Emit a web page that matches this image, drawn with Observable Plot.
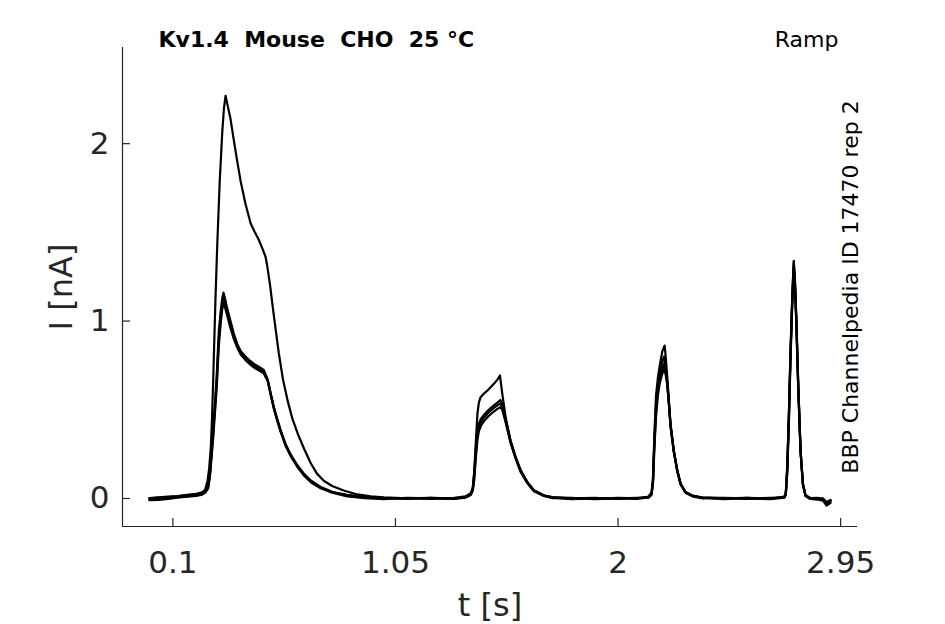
<!DOCTYPE html>
<html><head><meta charset="utf-8">
<script src="https://cdn.jsdelivr.net/npm/d3@7"></script>
<script src="https://cdn.jsdelivr.net/npm/@observablehq/plot@0.6"></script>
<style>
body{margin:0;background:#fff}
svg text{white-space:pre}
</style>
</head><body><div id="chart"></div>
<script>
// ---- data ----
const tA = [0,0.04,0.08,0.12,0.16,0.20,0.225,0.238,0.248,0.255,0.262,0.267,0.272,0.277,0.282,0.290,0.300,0.311,0.318,0.325,0.333,0.346,0.36,0.376,0.389,0.41,0.432,0.45,0.466,0.482,0.496,0.504,0.515,0.530,0.552,0.570,0.590,0.61,0.633,0.66,0.688,0.715,0.744,0.78,0.829,0.88,0.944,1.0,1.1,1.2,1.3,1.35,1.372,
  1.38,1.386,1.393,1.400,1.406,1.413,1.427,1.448,1.47,1.485,1.496,1.506,1.52,1.541,1.563,1.584,1.613,1.641,1.683,1.72,1.8,1.9,2.0,2.08,2.13,2.143,
  2.149,2.155,2.162,2.170,2.178,2.189,2.199,2.204,2.210,2.217,2.224,2.238,2.253,2.267,2.288,2.317,2.36,2.45,2.55,2.65,2.71,
  2.716,2.722,2.729,2.736,2.744,2.750,2.755,2.761,2.769,2.779,2.789,2.80,2.82,2.85,2.875,2.89,2.907];
const iA = [0.002,0.006,0.010,0.014,0.020,0.026,0.034,0.05,0.10,0.17,0.29,0.45,0.665,0.90,1.135,1.45,1.79,2.07,2.20,2.27,2.22,2.14,2.02,1.89,1.79,1.66,1.55,1.50,1.46,1.41,1.36,1.30,1.20,1.04,0.82,0.67,0.55,0.45,0.365,0.28,0.20,0.14,0.10,0.07,0.045,0.025,0.012,0.006,0.000,0.004,-0.002,0.010,0.03,
  0.06,0.15,0.32,0.48,0.54,0.57,0.59,0.615,0.646,0.67,0.693,0.59,0.46,0.327,0.233,0.158,0.092,0.045,0.017,0.006,0.002,-0.002,0.004,0.000,0.010,0.035,
  0.11,0.36,0.58,0.68,0.75,0.83,0.862,0.79,0.684,0.55,0.42,0.27,0.158,0.083,0.036,0.017,0.005,0.000,0.004,-0.002,0.010,
  0.035,0.18,0.47,0.83,1.16,1.34,1.23,1.02,0.65,0.27,0.083,0.017,0.002,0.004,-0.004,-0.03,-0.012];

const tLow = [0,0.04,0.08,0.12,0.16,0.20,0.225,0.24,0.25,0.258,0.265,0.272,0.280,0.287,0.296,0.305,0.311,0.316,0.322,0.332,0.346,0.36,0.375,0.39,0.41,0.43,0.45,0.47,0.488,0.505,0.518,0.531,0.545,0.56,0.58,0.602,0.63,0.659,0.69,0.731,0.78,0.844,0.92,1.0,1.1,1.2,1.3,1.35,1.372,
  1.38,1.386,1.393,1.400,1.406,1.415,1.427,1.448,1.47,1.485,1.498,1.506,1.52,1.541,1.563,1.584,1.613,1.641,1.683,1.72,1.8,1.9,2.0,2.08,2.13,2.143,
  2.149,2.155,2.162,2.170,2.178,2.188,2.196,2.203,2.210,2.217,2.224,2.238,2.253,2.267,2.288,2.317,2.36,2.45,2.55,2.65,2.71,
  2.716,2.722,2.729,2.736,2.744,2.750,2.755,2.761,2.769,2.779,2.789,2.80,2.82,2.85,2.875,2.89,2.907];
const iB = [-0.005,0.000,0.002,0.008,0.012,0.018,0.026,0.040,0.065,0.14,0.27,0.40,0.55,0.69,0.94,1.07,1.13,1.16,1.13,1.07,1.00,0.93,0.87,0.83,0.80,0.775,0.755,0.74,0.725,0.67,0.59,0.515,0.45,0.385,0.31,0.25,0.19,0.14,0.10,0.065,0.038,0.018,0.010,0.004,0.002,-0.002,0.004,0.012,0.03,
  0.06,0.14,0.28,0.38,0.42,0.45,0.47,0.50,0.525,0.54,0.555,0.53,0.45,0.325,0.232,0.16,0.092,0.046,0.018,0.008,0.000,0.003,-0.003,0.002,0.008,0.03,
  0.10,0.33,0.52,0.64,0.71,0.77,0.80,0.74,0.66,0.54,0.415,0.27,0.158,0.083,0.036,0.016,0.004,-0.004,0.003,0.000,0.008,
  0.03,0.17,0.46,0.82,1.15,1.33,1.22,1.00,0.64,0.27,0.083,0.018,0.004,-0.003,0.000,-0.02,-0.008];
const iC = [0.000,0.005,0.008,0.012,0.018,0.024,0.032,0.045,0.060,0.13,0.25,0.37,0.52,0.66,0.90,1.04,1.10,1.13,1.11,1.05,0.98,0.91,0.86,0.82,0.79,0.765,0.745,0.73,0.715,0.665,0.585,0.51,0.445,0.38,0.305,0.245,0.185,0.135,0.095,0.06,0.035,0.02,0.006,0.000,-0.003,0.003,0.000,0.008,0.025,
  0.05,0.12,0.25,0.36,0.40,0.43,0.455,0.485,0.51,0.525,0.535,0.515,0.44,0.32,0.228,0.155,0.088,0.043,0.016,0.004,-0.004,0.000,0.002,-0.002,0.006,0.025,
  0.09,0.30,0.49,0.61,0.68,0.73,0.76,0.72,0.65,0.535,0.41,0.265,0.155,0.081,0.034,0.014,0.006,0.002,-0.003,0.004,0.006,
  0.025,0.15,0.44,0.80,1.13,1.31,1.21,0.99,0.63,0.265,0.08,0.016,0.000,0.002,-0.006,-0.035,-0.015];
const iD = [-0.010,-0.008,-0.002,0.004,0.010,0.015,0.022,0.035,0.055,0.12,0.23,0.34,0.49,0.62,0.86,1.00,1.07,1.10,1.08,1.03,0.96,0.90,0.85,0.81,0.78,0.755,0.735,0.72,0.705,0.66,0.58,0.505,0.44,0.375,0.30,0.24,0.18,0.13,0.09,0.058,0.032,0.012,0.002,-0.004,0.004,0.000,-0.003,0.005,0.02,
  0.045,0.10,0.23,0.33,0.38,0.41,0.435,0.465,0.49,0.505,0.515,0.50,0.43,0.315,0.224,0.15,0.085,0.04,0.014,0.002,0.003,-0.004,0.000,0.004,0.004,0.02,
  0.08,0.28,0.46,0.58,0.65,0.70,0.73,0.70,0.64,0.53,0.405,0.26,0.152,0.079,0.032,0.012,0.000,0.003,0.000,-0.004,0.004,
  0.02,0.14,0.42,0.78,1.11,1.29,1.20,0.98,0.62,0.26,0.078,0.014,-0.003,-0.006,-0.012,-0.04,-0.025];

const xTicks = [0.1, 1.05, 2, 2.95];
const xTickLabels = ["0.1", "1.05", "2", "2.95"];
const yTicks = [0, 1, 2];
const yTickLabels = ["0", "1", "2"];
const titleText = "Kv1.4  Mouse  CHO  25 °C";
const protocolText = "Ramp";
const sideText = "BBP Channelpedia ID 17470 rep 2";
const xLabel = "t [s]";
const yLabel = "I [nA]";

// ---- build rows ----
const rows = [];
tA.forEach((t, k) => rows.push({trace: "A", t, i: iA[k]}));
[["B", iB], ["C", iC], ["D", iD]].forEach(([name, arr]) =>
  tLow.forEach((t, k) => rows.push({trace: name, t, i: arr[k]})));

// ---- layout ----
const W = 945, H = 624, mL = 122, mR = 88, mT = 47, mB = 98;
const fw = W - mL - mR, fh = H - mT - mB;
const xDom = [-0.115, 3.022], yDom = [-0.158, 2.542];
const axisColor = "#262626";

const chart = Plot.plot({
  width: W, height: H,
  marginLeft: mL, marginRight: mR, marginTop: mT, marginBottom: mB,
  style: {fontFamily: "DejaVu Sans", background: "white"},
  x: {domain: xDom},
  y: {domain: yDom},
  marks: [
    Plot.ruleX([xDom[0]], {stroke: axisColor, strokeWidth: 1.2}),
    Plot.ruleY([yDom[0]], {stroke: axisColor, strokeWidth: 1.2}),
    Plot.ruleX(xTicks, {insetTop: fh - 8, stroke: axisColor, strokeWidth: 1.2}),
    Plot.ruleY(yTicks, {insetRight: fw - 8, stroke: axisColor, strokeWidth: 1.2}),
    Plot.axisX(xTicks, {tickSize: 0, tickPadding: 24, fontSize: 31, fill: axisColor, label: null,
      tickFormat: d => xTickLabels[xTicks.indexOf(d)]}),
    Plot.axisY(yTicks, {tickSize: 0, tickPadding: 13, fontSize: 31, fill: axisColor, label: null,
      tickFormat: d => yTickLabels[yTicks.indexOf(d)]}),
    Plot.line(rows, {x: "t", y: "i", z: "trace", stroke: "black", strokeWidth: 2.2, strokeLinejoin: "round"}),
    Plot.text([titleText], {text: d => d, frameAnchor: "top-left", dx: 36, dy: -1, textAnchor: "start", lineAnchor: "bottom", fontWeight: "bold", fontSize: 22, fill: "black"}),
    Plot.text([protocolText], {text: d => d, frameAnchor: "top-right", dx: -19, dy: -1, textAnchor: "end", lineAnchor: "bottom", fontSize: 22, fill: "black"}),
    Plot.text([sideText], {text: d => d, frameAnchor: "right", dx: -7, rotate: -90, textAnchor: "middle", lineAnchor: "middle", fontSize: 22, fill: "black"}),
    Plot.text([yLabel], {text: d => d, frameAnchor: "left", dx: -61, rotate: -90, textAnchor: "middle", lineAnchor: "middle", fontSize: 32, fill: axisColor}),
    Plot.text([xLabel], {text: d => d, frameAnchor: "bottom", dy: 79, textAnchor: "middle", lineAnchor: "middle", fontSize: 32, fill: axisColor})
  ]
});
document.getElementById("chart").appendChild(chart);
</script>
</body></html>
